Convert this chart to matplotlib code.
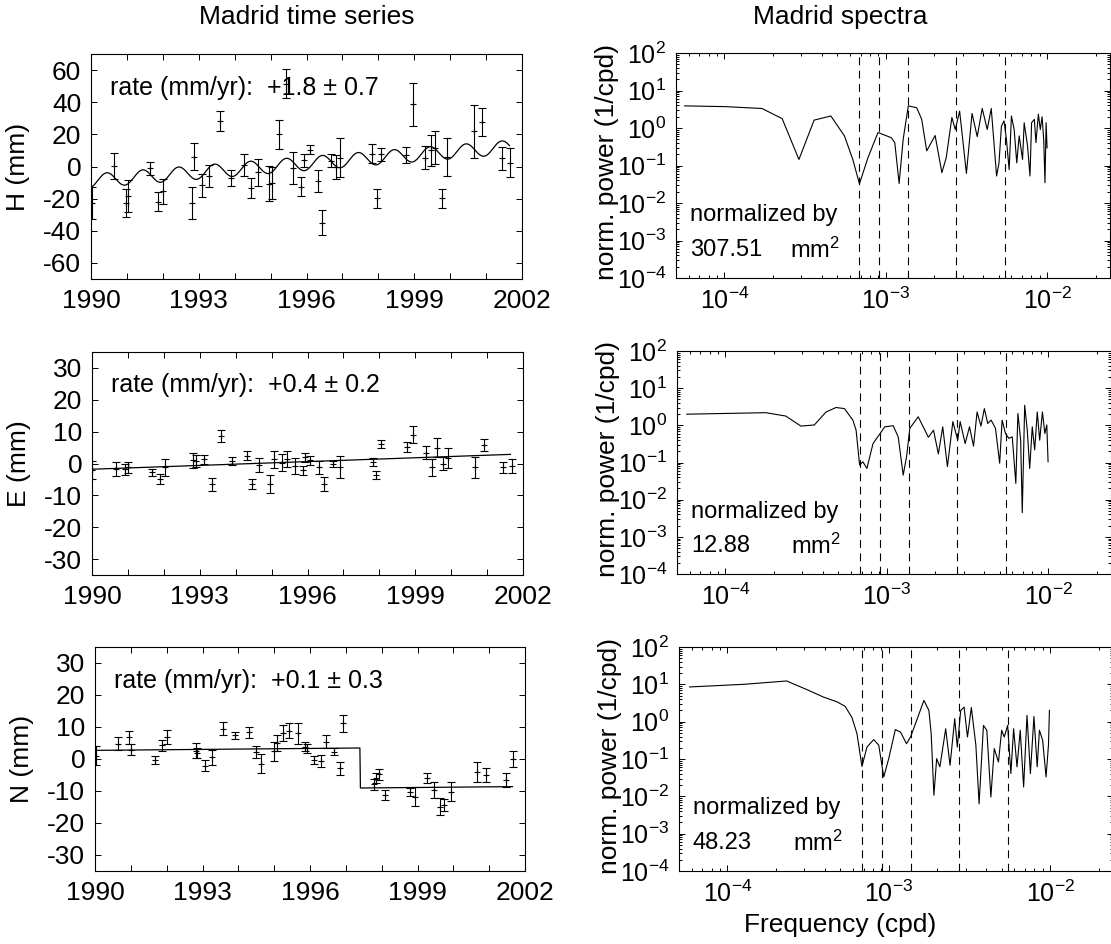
import numpy as np
import matplotlib
matplotlib.use("Agg")
import matplotlib.pyplot as plt
from matplotlib.ticker import LogLocator, LogFormatterMathtext, NullFormatter

plt.rcParams.update({
    "font.family": ["Liberation Sans", "DejaVu Sans"],
    "mathtext.fontset": "custom",
    "mathtext.rm": "Liberation Sans",
    "mathtext.it": "Liberation Sans:italic",
    "mathtext.bf": "Liberation Sans:bold",
    "mathtext.default": "regular",
    "axes.unicode_minus": False,
    "axes.linewidth": 0.8,
})

# ---------------- time series: Madrid, H / E / N (mm) ----------------
h_year = [1990.02, 1990.65, 1990.97, 1991.02, 1991.65, 1991.86, 1992.00, 1992.82,
          1992.86, 1993.10, 1993.28, 1993.59, 1993.90, 1994.26, 1994.45, 1994.65,
          1994.96, 1995.05, 1995.24, 1995.42, 1995.63, 1995.85, 1995.92, 1996.10,
          1996.32, 1996.44, 1996.69, 1996.83, 1996.93, 1997.81, 1997.95, 1998.07,
          1998.77, 1998.96, 1999.30, 1999.46, 1999.58, 1999.77, 1999.92, 2000.65,
          2000.90, 2001.44, 2001.67]
h_val = [-22.7, 0.4, -22.7, -18.2, -1.0, -22.0, -15.5, -22.7, 6.2, -11.8, -5.8, 28.3,
         -7.2, 1.0, -13.4, -3.7, -10.7, -10.0, 20.0, 51.6, -1.0, -12.6, 3.9, 10.5,
         -8.9, -34.9, 3.5, -0.2, 5.6, 8.0, -19.8, 7.6, 7.4, 38.6, 5.6, 10.0, 11.8,
         -19.8, 6.0, 22.0, 27.7, 5.0, 2.3]
h_err = [10, 8, 9, 10, 4, 6, 8, 10, 8.5, 7, 7, 6, 5, 7, 6, 8.5, 11, 10, 9, 9, 10, 6,
         4, 3, 7, 8, 4, 7.5, 12, 6, 6, 4, 5, 13.5, 7, 9.5, 10.5, 6, 12, 16.5, 8.5, 7, 9]

e_year = [1990.00, 1990.66, 1990.93, 1991.00, 1991.68, 1991.88, 1992.02, 1992.82,
          1992.89, 1993.12, 1993.33, 1993.60, 1993.91, 1994.31, 1994.45, 1994.66,
          1994.96, 1995.07, 1995.29, 1995.42, 1995.65, 1995.87, 1995.93, 1996.08,
          1996.31, 1996.47, 1996.70, 1996.91, 1997.82, 1997.92, 1998.05, 1998.77,
          1998.93, 1999.29, 1999.47, 1999.60, 1999.77, 1999.91, 2000.66, 2000.92,
          2001.45, 2001.68]
e_val = [-2.0, -1.8, -1.8, -1.25, -2.8, -4.9, -1.25, 1.0, 0.8, 1.35, -6.5, 8.6, 0.8,
         2.4, -6.5, -0.4, -6.5, 1.35, 0.3, 1.35, -0.7, -2.1, 1.9, 1.0, -1.25, -6.5,
         -0.2, -1.0, 0.5, -3.5, 6.0, 5.2, 9.0, 3.4, -1.25, 5.0, 0.0, 1.7, -1.25, 5.8,
         -1.25, -0.7]
e_err = [2.8, 2.2, 1.8, 1.6, 1.0, 1.5, 2.8, 2.4, 2.0, 1.4, 2.0, 1.8, 1.2, 1.4, 1.6,
         2.2, 2.9, 2.7, 2.6, 2.6, 2.5, 1.4, 1.3, 1.4, 2.0, 2.2, 1.0, 3.4, 1.3, 1.3,
         1.25, 1.6, 2.7, 2.1, 2.6, 2.9, 1.9, 3.1, 3.4, 2.0, 1.7, 2.2]

n_year = [1990.04, 1990.65, 1990.94, 1991.00, 1991.67, 1991.88, 1992.02, 1992.81,
          1992.86, 1993.07, 1993.27, 1993.58, 1993.91, 1994.31, 1994.49, 1994.63,
          1995.00, 1995.07, 1995.26, 1995.40, 1995.66, 1995.86, 1995.93, 1996.10,
          1996.30, 1996.44, 1996.68, 1996.84, 1996.91, 1997.79, 1997.84, 1997.93,
          1998.10, 1998.78, 1998.94, 1999.26, 1999.47, 1999.62, 1999.75, 1999.94,
          2000.66, 2000.92, 2001.48, 2001.67]
n_val = [1.0, 4.8, 6.8, 2.9, -0.4, 4.3, 6.8, 2.6, 1.9, -2.1, 0.5, 9.5, 7.4, 8.4, 2.2,
         -1.5, 2.4, 5.0, 8.1, 8.9, 8.1, 3.9, 3.3, -0.3, -0.6, 5.4, 2.3, -2.9, 11.1,
         -7.9, -6.0, -4.8, -11.25, -10.4, -11.8, -6.0, -9.7, -14.9, -14.4, -10.2,
         -4.0, -5.0, -6.6, 0.0]
n_err = [3.0, 2.1, 2.1, 1.7, 1.2, 1.7, 2.2, 2.4, 1.5, 1.7, 2.3, 2.0, 1.1, 1.7, 2.0,
         3.0, 3.0, 2.6, 2.6, 2.4, 3.3, 1.5, 1.4, 1.2, 2.0, 2.1, 1.1, 2.0, 2.7, 1.8,
         1.5, 1.7, 1.6, 1.3, 2.9, 1.5, 2.6, 2.7, 1.8, 2.9, 3.2, 2.3, 2.1, 2.5]

# fitted models: offset at 1990, rate (mm/yr), annual amplitude / peak phase, offset jump
rates = [1.8, 0.4, 0.1]
rate_err = [0.7, 0.2, 0.3]
h_offset, h_amp, h_peak = -9.0, 4.3, 0.44
e_offset = -1.8
n_offset, n_jump, n_jump_year = 2.7, -12.5, 1997.4
model_span = (1990.0, 2001.65)

# ---------------- spectra (log10 frequency [cpd], log10 normalised power) ----------------
h_logf = [-4.246, -3.996, -3.767, -3.642, -3.538, -3.444, -3.340, -3.256, -3.204, -3.163,
          -3.110, -3.048, -2.965, -2.944, -2.917, -2.892, -2.860, -2.808, -2.777, -2.746,
          -2.694, -2.652, -2.625, -2.590, -2.569, -2.542, -2.500, -2.465, -2.433, -2.402,
          -2.371, -2.346, -2.313, -2.298, -2.283, -2.267, -2.252, -2.235, -2.221, -2.204,
          -2.188, -2.173, -2.152, -2.142, -2.121, -2.106, -2.096, -2.079, -2.069, -2.054,
          -2.042, -2.031, -2.021, -2.013, -2.006, -2.000]
h_logp = [0.59, 0.57, 0.52, 0.25, -0.84, 0.21, 0.32, -0.21, -0.84, -1.49,
          -0.79, -0.12, -0.26, -0.39, -1.48, -0.30, 0.59, 0.54, 0.23, -0.61,
          -0.20, -1.19, -0.79, 0.28, -0.04, 0.45, -1.21, 0.39, -0.23, 0.52,
          -0.04, 0.52, -1.28, -0.93, 0.05, 0.19, -0.30, -1.11, 0.32, -0.04,
          -0.93, -0.21, -0.84, 0.14, -0.48, -1.28, 0.14, 0.23, -0.39, 0.37,
          -0.04, 0.30, -0.30, -1.46, 0.14, -0.53]

e_logf = [-4.239, -3.750, -3.626, -3.532, -3.449, -3.376, -3.314, -3.262, -3.210, -3.190,
          -3.168, -3.148, -3.123, -3.085, -3.012, -2.960, -2.929, -2.898, -2.877, -2.857,
          -2.805, -2.742, -2.710, -2.680, -2.653, -2.624, -2.590, -2.560, -2.545, -2.514,
          -2.487, -2.462, -2.440, -2.416, -2.395, -2.374, -2.353, -2.326, -2.300, -2.285,
          -2.264, -2.243, -2.222, -2.200, -2.187, -2.170, -2.160, -2.145, -2.129, -2.114,
          -2.098, -2.083, -2.067, -2.052, -2.035, -2.020, -2.008, -2.000]
e_logp = [0.30, 0.34, 0.25, -0.02, 0.01, 0.36, 0.48, 0.45, 0.14, -0.13,
          -1.07, -0.98, -1.16, -0.49, -0.04, -0.01, -0.31, -1.34, -0.84, -0.08,
          0.23, -0.32, -0.13, -0.77, -0.04, -1.11, 0.10, -0.40, 0.10, -0.49,
          -0.04, -0.56, 0.36, -0.02, 0.45, 0.05, 0.14, -0.08, -1.02, 0.14,
          -0.22, -0.35, -0.31, -1.56, 0.32, -0.40, -2.35, 0.54, -0.13, -1.16,
          -0.04, -0.66, 0.36, -0.40, 0.36, -0.22, 0.01, -0.98]

n_logf = [-4.234, -3.900, -3.633, -3.508, -3.405, -3.320, -3.270, -3.228, -3.197, -3.166,
          -3.135, -3.093, -3.062, -3.031, -3.000, -2.959, -2.927, -2.890, -2.865, -2.834,
          -2.782, -2.751, -2.737, -2.720, -2.703, -2.683, -2.647, -2.620, -2.591, -2.575,
          -2.554, -2.533, -2.512, -2.488, -2.460, -2.440, -2.413, -2.392, -2.367, -2.346,
          -2.320, -2.300, -2.284, -2.263, -2.243, -2.226, -2.205, -2.185, -2.164, -2.143,
          -2.122, -2.100, -2.080, -2.066, -2.046, -2.025, -2.010, -2.004]
n_logp = [0.93, 1.00, 1.09, 0.86, 0.66, 0.53, 0.41, 0.11, -0.32, -1.20,
          -0.68, -0.48, -0.63, -1.48, -0.99, -0.21, -0.28, -0.59, -0.41, -0.05,
          0.57, 0.30, -0.32, -1.97, -0.99, -1.21, -0.19, -1.17, 0.08, -0.68,
          0.30, 0.39, -0.41, 0.38, -0.63, -2.20, -0.10, -0.23, -2.02, -0.72,
          -1.08, -0.23, -0.41, -0.10, -1.39, -0.19, -1.21, -0.23, -1.75, 0.17,
          -1.39, 0.14, -1.21, -0.23, -0.50, -1.48, -0.63, 0.30]

norm_values = ["307.51", "12.88", "48.23"]
marked_periods_yr = [4, 3, 2, 1, 0.5]

components = ["H", "E", "N"]
ylims = [(-70, 70), (-35, 35), (-35, 35)]
yticks = [np.arange(-60, 61, 20), np.arange(-30, 31, 10), np.arange(-30, 31, 10)]

# ---------------- figure layout (pixel boxes) ----------------
W, H = 1111, 944
fig = plt.figure(figsize=(W / 100, H / 100), dpi=100)


def box(x0, y0, x1, y1):
    return fig.add_axes([x0 / W, 1 - y1 / H, (x1 - x0) / W, (y1 - y0) / H])


left_boxes = [(91, 54, 522, 279), (92, 352, 523, 575), (95, 647, 525, 871)]
right_boxes = [(676, 53, 1110, 278), (677, 351, 1111, 574), (679, 647, 1113, 871)]

FS = 19


def style_axes(ax):
    ax.tick_params(which="both", direction="in", top=True, right=True,
                   labelsize=FS, width=0.7, pad=7)
    ax.tick_params(which="major", length=4.5)
    ax.tick_params(which="minor", length=2.5)
    for s in ax.spines.values():
        s.set_linewidth(0.8)


t = np.linspace(model_span[0], model_span[1], 800)
models = [
    h_offset + rates[0] * (t - 1990) + h_amp * np.cos(2 * np.pi * (t - h_peak)),
    e_offset + rates[1] * (t - 1990),
    n_offset + rates[2] * (t - 1990) + np.where(t >= n_jump_year, n_jump, 0.0),
]
series = [(h_year, h_val, h_err), (e_year, e_val, e_err), (n_year, n_val, n_err)]

for i, comp in enumerate(components):
    ax = box(*left_boxes[i])
    yr, val, err = series[i]
    ax.errorbar(yr, val, yerr=err, fmt="+", color="k", ms=5, mew=0.8,
                elinewidth=0.8, capsize=3, capthick=0.8)
    ax.plot(t, models[i], color="k", lw=0.9)
    ax.set_xlim(1990, 2002)
    ax.set_ylim(*ylims[i])
    years = np.arange(1990, 2003)
    ax.set_xticks(years)
    ax.set_xticklabels([str(y) if (y - 1990) % 3 == 0 else "" for y in years])
    ax.set_yticks(yticks[i])
    style_axes(ax)
    ax.text(0.044, 0.85, f"rate (mm/yr):  +{rates[i]:.1f} \u00b1 {rate_err[i]:.1f}",
            transform=ax.transAxes, va="center", ha="left", fontsize=18)
    ax.text(-0.169, 0.5, f"{comp} (mm)", transform=ax.transAxes, rotation=90,
            ha="center", va="center", fontsize=FS)

spectra = [(h_logf, h_logp), (e_logf, e_logp), (n_logf, n_logp)]
marked_freqs = [1.0 / (p * 365.25) for p in marked_periods_yr]

for i in range(3):
    ax = box(*right_boxes[i])
    lf, lp = spectra[i]
    ax.plot(10 ** np.array(lf), 10 ** np.array(lp), color="k", lw=0.8)
    for f in marked_freqs:
        ax.axvline(f, color="k", lw=0.8, linestyle=(0, (7, 5)))
    ax.set_xscale("log")
    ax.set_yscale("log")
    ax.set_xlim(10 ** -4.30, 10 ** -1.61)
    ax.set_ylim(1e-4, 1e2)
    ax.xaxis.set_major_locator(LogLocator(base=10, numticks=10))
    ax.yaxis.set_major_locator(LogLocator(base=10, numticks=10))
    ax.xaxis.set_minor_locator(LogLocator(base=10, subs=np.arange(2, 10), numticks=20))
    ax.yaxis.set_minor_locator(LogLocator(base=10, subs=np.arange(2, 10), numticks=20))
    ax.xaxis.set_major_formatter(LogFormatterMathtext())
    ax.yaxis.set_major_formatter(LogFormatterMathtext())
    ax.xaxis.set_minor_formatter(NullFormatter())
    ax.yaxis.set_minor_formatter(NullFormatter())
    style_axes(ax)
    ax.tick_params(axis="both", labelsize=18)
    ax.text(0.032, 0.28, "normalized by", transform=ax.transAxes,
            va="center", ha="left", fontsize=17)
    ax.text(0.032, 0.124, norm_values[i], transform=ax.transAxes,
            va="center", ha="left", fontsize=17)
    ax.text(0.263, 0.124, "mm$^2$", transform=ax.transAxes,
            va="center", ha="left", fontsize=17)
    ax.text(-0.159, 0.515, "norm. power (1/cpd)", transform=ax.transAxes,
            rotation=90, ha="center", va="center", fontsize=FS)

fig.text(307 / W, 1 - 17 / H, "Madrid time series", ha="center", va="center", fontsize=FS)
fig.text(840 / W, 1 - 17 / H, "Madrid spectra", ha="center", va="center", fontsize=FS)
fig.text(840 / W, 1 - 925 / H, "Frequency (cpd)", ha="center", va="center", fontsize=FS)

fig.savefig("out.png", dpi=100)
